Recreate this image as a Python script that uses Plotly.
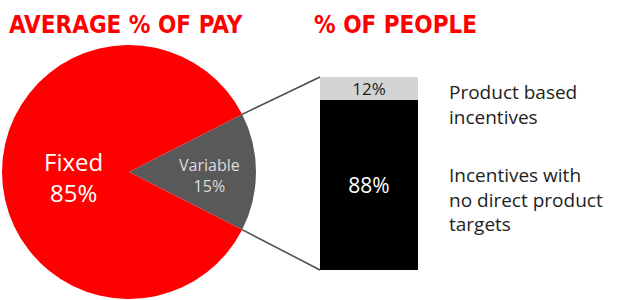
import math
import plotly.graph_objects as go

# ---- data ----
pay_labels = ["Variable", "Fixed"]
pay_values = [15, 85]
people_labels = ["Incentives with<br>no direct product<br>targets", "Product based<br>incentives"]
people_values = [88, 12]
title_left = "AVERAGE % OF PAY"
title_right = "% OF PEOPLE"

W, H = 629, 300
def px(x): return x / W
def py(y): return 1 - y / H

# pie geometry (pixels)
cx, cy, r = 129, 172, 127
bar_x0, bar_x1, bar_top, bar_bot = 320, 418, 77, 270

fig = go.Figure()

var_share = pay_values[0] / sum(pay_values)
half_angle = var_share * 360 / 2
fig.add_trace(go.Pie(
    labels=pay_labels, values=pay_values, sort=False, direction="clockwise",
    rotation=90 - half_angle,
    marker=dict(colors=["#595959", "#ff0000"], line=dict(width=0)),
    textinfo="none", hoverinfo="label+percent", showlegend=False,
    domain=dict(x=[px(cx - r), px(cx + r)], y=[py(cy + r), py(cy - r)]),
))

bar_colors = ["#000000", "#d4d4d4"]
text_colors = ["#ffffff", "#222222"]
text_sizes = [21, 17]
for lab, val, col, tc, ts in zip(people_labels, people_values, bar_colors, text_colors, text_sizes):
    fig.add_trace(go.Bar(
        x=[0], y=[val], name=lab, marker=dict(color=col, line=dict(width=0)),
        text=[f"{val}%"], textposition="inside", insidetextanchor="middle",
        constraintext="none",
        textfont=dict(color=tc, size=ts, family="Open Sans"),
        width=1, showlegend=False, xaxis="x", yaxis="y",
    ))

fig.update_layout(
    width=W, height=H, margin=dict(l=0, r=0, t=0, b=0),
    paper_bgcolor="white", plot_bgcolor="white",
    barmode="stack",
    xaxis=dict(domain=[px(bar_x0), px(bar_x1)], range=[-0.5, 0.5], visible=False, fixedrange=True),
    yaxis=dict(domain=[py(bar_bot), py(bar_top)], range=[0, sum(people_values)], visible=False, fixedrange=True),
)

# connector lines from pie slice edges to bar corners
a = math.radians(half_angle)
ex = cx + r * math.cos(a)
ey_top = cy - r * math.sin(a)
ey_bot = cy + r * math.sin(a)
for (y0, y1) in [(ey_top, bar_top), (ey_bot, bar_bot)]:
    fig.add_shape(type="line", xref="paper", yref="paper",
                  x0=px(ex), y0=py(y0), x1=px(bar_x0), y1=py(y1),
                  line=dict(color="#4a4a4a", width=1.5), layer="below")

title_font = dict(family="DejaVu Sans Condensed, DejaVu Sans", size=24, color="#ff0000", weight="bold")
annotations = [
    dict(text=title_left, x=px(7), y=py(9), xanchor="left", yanchor="top", font=title_font),
    dict(text=title_right, x=px(312), y=py(9), xanchor="left", yanchor="top", font=title_font),
    dict(text=f"{pay_labels[1]}<br>{pay_values[1]}%", x=px(73), y=py(177), xanchor="center", yanchor="middle",
         font=dict(family="Open Sans", size=24, color="#ffffff")),
    dict(text=f"{pay_labels[0]}<br>{pay_values[0]}%", x=px(209), y=py(175), xanchor="center", yanchor="middle",
         font=dict(family="Open Sans", size=16, color="#dddddd")),
    dict(text=people_labels[1], x=px(447), y=py(104), xanchor="left", yanchor="middle", align="left",
         font=dict(family="Open Sans", size=19, color="#222222")),
    dict(text=people_labels[0], x=px(447), y=py(199), xanchor="left", yanchor="middle", align="left",
         font=dict(family="Open Sans", size=19, color="#222222")),
]
for an in annotations:
    an.update(xref="paper", yref="paper", showarrow=False)
fig.update_layout(annotations=annotations)

fig.write_html("out.html", config={"displayModeBar": False},
               post_script="document.body.style.margin='0';")
